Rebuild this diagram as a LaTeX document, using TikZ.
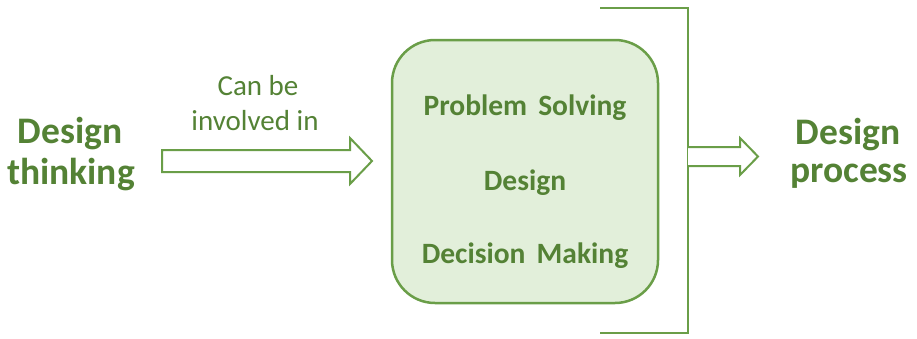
\documentclass[tikz,border=0pt]{standalone}
\usepackage{fontspec}
\setmainfont{Carlito}
\definecolor{txtgreen}{RGB}{84,130,53}
\definecolor{linegreen}{RGB}{106,158,72}
\definecolor{boxfill}{RGB}{226,239,218}
\begin{document}
\begin{tikzpicture}[x=1pt,y=-1pt,
  lefttxt/.style={text=txtgreen,font=\fontsize{37.5}{40}\selectfont\bfseries,inner sep=0pt,anchor=base},
  righttxt/.style={text=txtgreen,font=\fontsize{37.5}{40}\selectfont\bfseries,inner sep=0pt,anchor=base},
  midtxt/.style={text=txtgreen,font=\fontsize{29.5}{32}\selectfont\bfseries,inner sep=0pt,anchor=base},
  captxt/.style={text=txtgreen,font=\fontsize{29}{32}\selectfont,inner sep=0pt,anchor=base},
  outline/.style={draw=linegreen,line width=2pt,line join=miter},
]
\useasboundingbox (0,0) rectangle (917,338);

% left label
\node[lefttxt] (think1) at (70,143) {Design};
\node[lefttxt] (think2) at (71,184) {thinking};
% right label
\node[righttxt] (proc1) at (848,144) {Design};
\node[righttxt] (proc2) at (849,182) {process};
% arrow caption
\node[captxt] (cap1) at (258,95) {Can be};
\node[captxt] (cap2) at (255,130) {involved in};

% central rounded box
\node[draw=linegreen,line width=2.5pt,fill=boxfill,rounded corners=43pt,
      minimum width=266pt,minimum height=263pt,inner sep=0pt] (box) at (525,171.5) {};
\node[midtxt] (ps) at (box.center |- 0,115) {Problem\hspace{0.15em} Solving};
\node[midtxt] (ds) at (box.center |- 0,190) {Design};
\node[midtxt] (dm) at (box.center |- 0,263) {Decision\hspace{0.15em} Making};

% bracket around the box
\coordinate (bt) at (600,8);
\coordinate (bb) at (600,333);
\coordinate (bx) at (688,0);
\draw[outline] (bt) -- (bt -| bx) -- (bb -| bx) -- (bb);

% block arrow from left label towards the box
\draw[outline,fill=white] (162,150) -- (350,150) -- (350,138) -- (372,161)
   -- (350,184) -- (350,172) -- (162,172) -- cycle;

% block arrow from the bracket towards the right label
\draw[outline,fill=white] (688,147) -- (740,147) -- (740,138) -- (758,156.5)
   -- (740,175) -- (740,166) -- (688,166);
\end{tikzpicture}
\end{document}
